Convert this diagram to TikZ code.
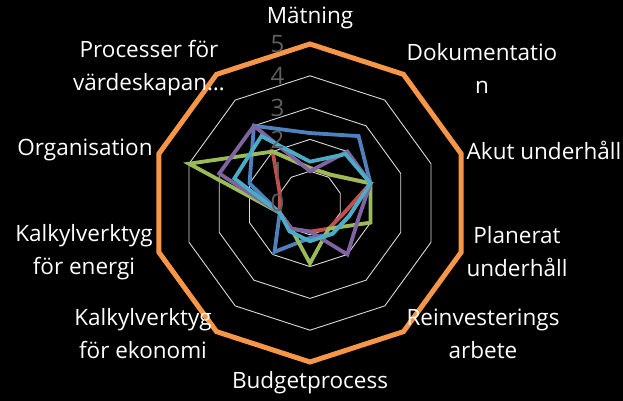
\documentclass[tikz,border=0pt]{standalone}
\usepackage{fontspec}
\setmainfont{Open Sans}

\definecolor{serblue}{HTML}{4F81BD}
\definecolor{serred}{HTML}{C0504D}
\definecolor{sergreen}{HTML}{9BBB59}
\definecolor{serpurple}{HTML}{8064A2}
\definecolor{sercyan}{HTML}{4BACC6}
\definecolor{serorange}{HTML}{F79646}
\definecolor{gridgray}{HTML}{D9D9D9}
\definecolor{tickgray}{HTML}{5F5F5F}

\begin{document}
\begin{tikzpicture}[
            x=1pt, y=1pt,
            axislabel/.style = {text=white, align=center, inner sep=0pt, font=\fontsize{22.5}{33}\selectfont},
            ticklabel/.style = {text=tickgray, anchor=east, inner sep=0pt, font=\fontsize{24}{24}\selectfont},
            gridline/.style = {draw=gridgray, line width=0.9pt},
            series/.style = {line width=3.8pt, line join=miter},
        ]

            % Background
            \fill[black] (0,0) rectangle (623,401);
            \useasboundingbox (0,0) rectangle (623,401);

            \begin{scope}[shift={(310,198)}, x=31.8pt, y=31.8pt]
                % Grid levels 1-4
                \foreach \lv in {1,...,4}
                    \draw[gridline] (90:\lv) -- (54:\lv) -- (18:\lv) -- (-18:\lv) -- (-54:\lv) -- (-90:\lv) -- (-126:\lv) -- (-162:\lv) -- (162:\lv) -- (126:\lv) -- cycle;

                % Series
                \draw[series, serblue] (90:2.2) -- (54:2.6) -- (18:2.0) -- (-18:1.3) -- (-54:1.2) -- (-90:1.1) -- (-126:1.9) -- (-162:1.0) -- (162:2.0) -- (126:3.0) -- cycle;
                \draw[series, serred] (90:1.1) -- (54:1.1) -- (18:2.0) -- (-18:1.1) -- (-54:1.0) -- (-90:0.9) -- (-126:1.0) -- (-162:1.0) -- (162:1.0) -- (126:2.0) -- cycle;
                \draw[series, sergreen] (90:1.1) -- (54:1.1) -- (18:2.0) -- (-18:2.0) -- (-54:1.0) -- (-90:1.9) -- (-126:1.0) -- (-162:1.0) -- (162:4.0) -- (126:2.0) -- cycle;
                \draw[series, serpurple] (90:1.0) -- (54:2.0) -- (18:2.0) -- (-18:1.6) -- (-54:2.0) -- (-90:0.9) -- (-126:1.0) -- (-162:1.0) -- (162:3.0) -- (126:3.0) -- cycle;
                \draw[series, sercyan] (90:1.3) -- (54:1.9) -- (18:2.0) -- (-18:1.3) -- (-54:1.2) -- (-90:1.2) -- (-126:1.1) -- (-162:1.0) -- (162:2.5) -- (126:2.6) -- cycle;
                \draw[series, serorange, line width=5pt] (90:5) -- (54:5) -- (18:5) -- (-18:5) -- (-54:5) -- (-90:5) -- (-126:5) -- (-162:5) -- (162:5) -- (126:5) -- cycle;

                % Scale
                \foreach \lv in {0,...,5}
                    \node[ticklabel] (tick\lv) at (-0.8,\lv) {\lv};
            \end{scope}

            % Axis labels
            \node[axislabel] (matning) at (310,383) {Mätning};
            \node[axislabel] (dokumentation) at (482,333) {Dokumentatio\\n};
            \node[axislabel] (akut) at (544,251) {Akut underhåll};
            \node[axislabel] (planerat) at (517,149) {Planerat\\underhåll};
            \node[axislabel] (reinvest) at (483,67) {Reinvesterings\\arbete};
            \node[axislabel] (budget) at (310,18) {Budgetprocess};
            \node[axislabel] (kalkylEkonomi) at (143,67) {Kalkylverktyg\\för ekonomi};
            \node[axislabel] (kalkylEnergi) at (84,149) {Kalkylverktyg\\för energi};
            \node[axislabel] (organisation) at (85,251) {Organisation};
            \node[axislabel] (processer) at (149,333) {Processer för\\värdeskapan…};

        \end{tikzpicture}
\end{document}
